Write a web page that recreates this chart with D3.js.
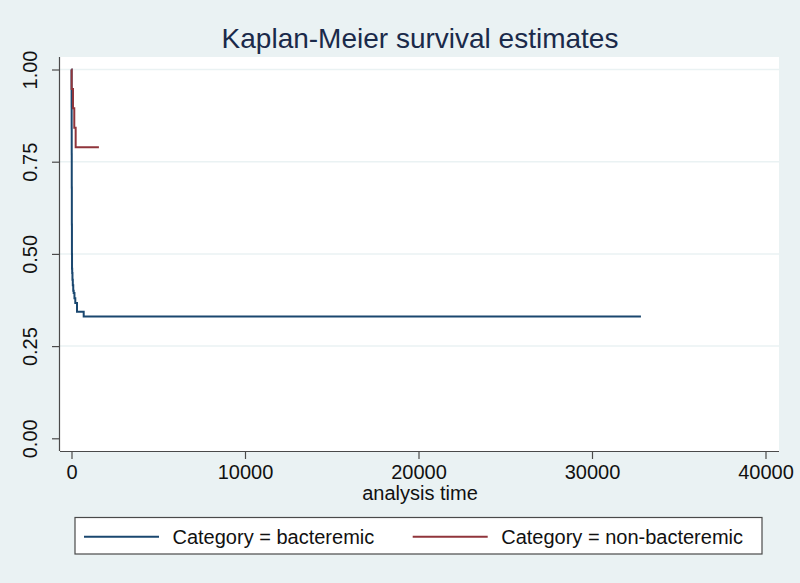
<!DOCTYPE html>
<html>
<head>
<meta charset="utf-8">
<script src="https://cdn.jsdelivr.net/npm/d3@7"></script>
<style>
  body { margin: 0; background: #eaf2f3; }
  svg { display: block; font-family: "Liberation Sans", Arial, sans-serif; }
</style>
</head>
<body>
<div id="chart"></div>
<script>
// survival data (time, survivor function)
var timeBact = [0, 3, 6, 9, 12, 15, 20, 25, 30, 40, 55, 75, 100, 127, 170, 219, 317, 703, 32820];
var survBact = [1.0, 0.95, 0.90, 0.84, 0.77, 0.68, 0.58, 0.50, 0.46, 0.448, 0.43, 0.415, 0.40, 0.394, 0.38, 0.367, 0.343, 0.330, 0.330];
var timeNonBact = [0, 10, 86, 160, 240, 1580];
var survNonBact = [1.0, 0.947, 0.895, 0.842, 0.789, 0.789];

var categories = ['Category = bacteremic', 'Category = non-bacteremic'];
var colors = ['#1a476f', '#90353b'];
var xTicks = [0, 10000, 20000, 30000, 40000];
var yTicks = [0, 0.25, 0.5, 0.75, 1];

const WIDTH = 800;
const HEIGHT = 583;

var svg = d3.select('#chart').append('svg')
	.attr('width', WIDTH)
	.attr('height', HEIGHT);

svg.append('rect')
	.attr('width', WIDTH)
	.attr('height', HEIGHT)
	.attr('fill', '#eaf2f3');

var x = d3.scaleLinear().domain([0, 40000]).range([71.5, 765.5]);
var y = d3.scaleLinear().domain([0, 1]).range([438.3, 69.5]);

// plot region
svg.append('rect')
	.attr('x', 60)
	.attr('y', 57)
	.attr('width', 779 - 60)
	.attr('height', 451 - 57)
	.attr('fill', '#ffffff');

// grid lines
svg.append('g').selectAll('line')
	.data(yTicks.filter(function (d) { return d > 0; }))
	.enter().append('line')
	.attr('x1', 60)
	.attr('x2', 779)
	.attr('y1', function (d) { return y(d); })
	.attr('y2', function (d) { return y(d); })
	.attr('stroke', '#eaf2f3')
	.attr('stroke-width', 1.5);

// axes
var xAxis = svg.append('g')
	.attr('transform', 'translate(0,451)')
	.call(d3.axisBottom(x).tickValues(xTicks).tickSize(8).tickPadding(6).tickFormat(d3.format('d')));
xAxis.select('.domain').attr('d', 'M60,0.5H779');

var yAxis = svg.append('g')
	.attr('transform', 'translate(60,0)')
	.call(d3.axisLeft(y).tickValues(yTicks).tickSize(8).tickFormat(d3.format('.2f')));
yAxis.select('.domain').attr('d', 'M-0.5,57V451');

svg.selectAll('.domain, .tick line').attr('stroke', '#4a4a4a').attr('stroke-width', 1.2);
xAxis.selectAll('.tick text')
	.attr('font-size', 20)
	.attr('fill', '#111')
	.attr('font-family', '"Liberation Sans", Arial, sans-serif');
yAxis.selectAll('.tick text')
	.attr('font-size', 20)
	.attr('fill', '#111')
	.attr('font-family', '"Liberation Sans", Arial, sans-serif')
	.attr('text-anchor', 'middle')
	.attr('x', 0)
	.attr('dy', 0)
	.attr('transform', 'translate(-23,0) rotate(-90)');

// curves
var line = d3.line()
	.x(function (d) { return x(d[0]); })
	.y(function (d) { return y(d[1]); })
	.curve(d3.curveStepAfter);

var series = [d3.zip(timeBact, survBact), d3.zip(timeNonBact, survNonBact)];

svg.append('g').selectAll('path')
	.data(series)
	.enter().append('path')
	.attr('d', line)
	.attr('fill', 'none')
	.attr('stroke', function (d, i) { return colors[i]; })
	.attr('stroke-width', 2);

// title and axis title
svg.append('text')
	.attr('x', 420)
	.attr('y', 48)
	.attr('text-anchor', 'middle')
	.attr('font-size', 28)
	.attr('fill', '#1a2a4a')
	.text('Kaplan-Meier survival estimates');

svg.append('text')
	.attr('x', 420)
	.attr('y', 500)
	.attr('text-anchor', 'middle')
	.attr('font-size', 20)
	.attr('fill', '#111')
	.text('analysis time');

// legend
svg.append('rect')
	.attr('x', 75)
	.attr('y', 517.5)
	.attr('width', 762 - 75)
	.attr('height', 554 - 517.5)
	.attr('fill', '#ffffff')
	.attr('stroke', '#4a4a4a')
	.attr('stroke-width', 1.2);

var legendX = [84, 412.7];
var item = svg.append('g').selectAll('g')
	.data(categories)
	.enter().append('g')
	.attr('transform', function (d, i) { return 'translate(' + legendX[i] + ',536.7)'; });
item.append('line')
	.attr('x1', 0)
	.attr('x2', 75)
	.attr('stroke', function (d, i) { return colors[i]; })
	.attr('stroke-width', 2);
item.append('text')
	.attr('x', 88.5)
	.attr('y', 7)
	.attr('font-size', 20)
	.attr('fill', '#111')
	.text(function (d) { return d; });
</script>
</body>
</html>
